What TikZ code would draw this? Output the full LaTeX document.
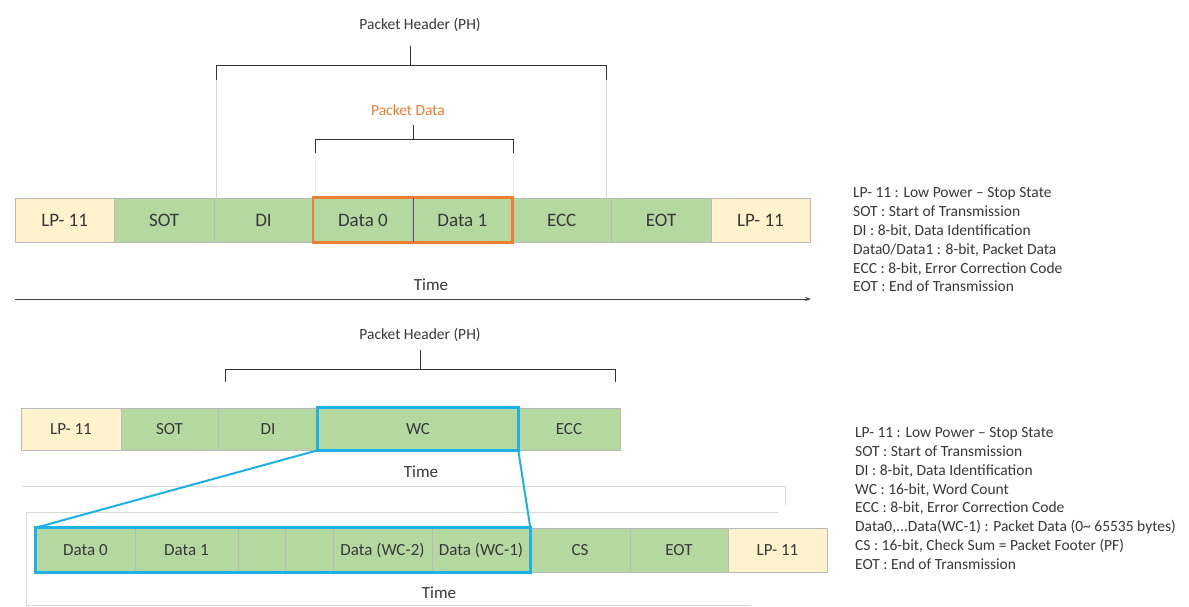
\documentclass[tikz,border=0pt]{standalone}
\usepackage{fontspec}
\setmainfont{Carlito}
\usetikzlibrary{arrows.meta}
\definecolor{cellgreen}{HTML}{B5D8A0}
\definecolor{cellyellow}{HTML}{FFF2CC}
\definecolor{pdorange}{HTML}{ED7D31}
\definecolor{wccyan}{HTML}{1DB1E6}
\definecolor{txt}{HTML}{383838}
\tikzset{
  cellA/.style={draw=gray!55, line width=0.6pt, fill=cellgreen, inner sep=0pt,
    text=txt, font=\fontsize{19}{22}\selectfont, minimum height=44pt},
  lpA/.style={cellA, fill=cellyellow},
  cellB/.style={cellA, font=\fontsize{17}{20}\selectfont},
  lpB/.style={cellB, fill=cellyellow},
  brk/.style={draw=black!80, line width=1pt},
  lbl/.style={text=txt, font=\fontsize{15.5}{18}\selectfont, inner sep=0pt},
  timelbl/.style={text=txt, font=\fontsize{17}{20}\selectfont, inner sep=0pt},
  legend/.style={text=txt, font=\fontsize{15.5}{18.8}\selectfont, align=left, inner sep=0pt, anchor=west},
  faint/.style={draw=gray!30, line width=0.8pt},
  orbox/.style={draw=pdorange, line width=2.5pt},
  cybox/.style={draw=wccyan, line width=2.5pt},
}
\begin{document}
\begin{tikzpicture}[x=1pt, y=-1pt]
\useasboundingbox (0,0) rectangle (1189,607);
\fill[white] (0,0) rectangle (1189,607);

% ---------- Top section ----------
% faint guide lines from bracket ends
\coordinate (g1a) at (216,80);   \coordinate (g1b) at (216,198);
\coordinate (g2a) at (606,80);   \coordinate (g2b) at (606,198);
\coordinate (g3a) at (315,153);  \coordinate (g3b) at (315,198);
\coordinate (g4a) at (513,153);  \coordinate (g4b) at (513,198);
\draw[draw=gray!35, line width=0.8pt] (g1a) -- (g1b);
\draw[draw=gray!35, line width=0.8pt] (g2a) -- (g2b);
\draw[draw=gray!15, line width=0.8pt] (g3a) -- (g3b);
\draw[draw=gray!15, line width=0.8pt] (g4a) -- (g4b);

\node[lpA,   minimum width=99.4pt] (a1) at (64.7,220)  {LP- 11};
\node[cellA, minimum width=99.4pt] (a2) at (164.1,220) {SOT};
\node[cellA, minimum width=99.4pt] (a3) at (263.5,220) {DI};
\node[cellA, minimum width=99.4pt] (a4) at (362.9,220) {Data 0};
\node[cellA, minimum width=99.4pt] (a5) at (462.3,220) {Data 1};
\node[cellA, minimum width=99.4pt] (a6) at (561.7,220) {ECC};
\node[cellA, minimum width=99.4pt] (a7) at (661.1,220) {EOT};
\node[lpA,   minimum width=99.4pt] (a8) at (760.5,220) {LP- 11};
\draw[orbox] (a4.north west) rectangle (a5.south east);
\draw[draw=gray!70!black, line width=0.8pt] (a4.north east) -- (a4.south east);

% Packet Header bracket (top)
\node[lbl] (phA) at (420,25) {Packet Header (PH)};
\coordinate (phAl) at (216,80); \coordinate (phAr) at (606,80);
\coordinate (phAm) at (410,66); \coordinate (phAt) at (410,46);
\draw[brk] (phAl) -- (216,66) -- (606,66) -- (phAr);
\draw[brk] (phAt) -- (phAm);

% Packet Data bracket
\node[lbl, text=pdorange] (pd) at (408,110) {Packet Data};
\coordinate (pdl) at (315,153); \coordinate (pdr) at (513,153);
\coordinate (pdm) at (413,140); \coordinate (pdt) at (413,125);
\draw[brk] (pdl) -- (315,140) -- (513,140) -- (pdr);
\draw[brk] (pdt) -- (pdm);

% time axis
\node[timelbl] (timeA) at (431,285) {Time};
\coordinate (ta1) at (15,299); \coordinate (ta2) at (811,299);
\draw[draw=black!75, line width=1pt, -{Stealth[length=6pt,width=4pt]}] (ta1) -- (ta2);

% legend top
\node[legend] (legA) at (853,240) {LP- 11 : Low Power -- Stop State\\
SOT : Start of Transmission\\
DI : 8-bit, Data Identification\\
Data0/Data1 : 8-bit, Packet Data\\
ECC : 8-bit, Error Correction Code\\
EOT : End of Transmission};

% ---------- Bottom section ----------
\node[lbl] (phB) at (420,335) {Packet Header (PH)};
\coordinate (phBl) at (225,382); \coordinate (phBr) at (615,382);
\coordinate (phBm) at (420,369); \coordinate (phBt) at (420,350);
\draw[brk] (phBl) -- (225,369) -- (615,369) -- (phBr);
\draw[brk] (phBt) -- (phBm);

\node[lpB,   minimum height=42pt, minimum width=100pt] (b1) at (71,429)    {LP- 11};
\node[cellB, minimum height=42pt, minimum width=97pt]  (b2) at (169.5,429) {SOT};
\node[cellB, minimum height=42pt, minimum width=100pt] (b3) at (268,429)   {DI};
\node[cellB, minimum height=42pt, minimum width=200pt] (b4) at (418,429)   {WC};
\node[cellB, minimum height=42pt, minimum width=102pt] (b5) at (569,429)   {ECC};
\draw[cybox] (b4.north west) rectangle (b4.south east);

\node[timelbl] (timeB) at (421,472) {Time};

% faint frame lines
\coordinate (f1) at (22,486);  \coordinate (f2) at (785,486); \coordinate (f3) at (785,505);
\coordinate (f4) at (26,512);  \coordinate (f5) at (778,512);
\coordinate (f6) at (26,605);  \coordinate (f7) at (750,605);
\draw[faint] (f1) -- (f2) -- (f3);
\draw[faint] (f5) -- (f4) -- (f6) -- (f7);

\node[cellB, minimum width=99pt]  (c1) at (85.5,550)  {Data 0};
\node[cellB, minimum width=103pt] (c2) at (186.5,550) {Data 1};
\node[cellB, minimum width=47pt]  (c3) at (261.5,550) {};
\node[cellB, minimum width=48pt]  (c4) at (309,550)   {};
\node[cellB, minimum width=99pt]  (c5) at (382.5,550) {Data (WC-2)};
\node[cellB, minimum width=98pt]  (c6) at (481,550)   {Data (WC-1)};
\node[cellB, minimum width=100pt] (c7) at (580,550)   {CS};
\node[cellB, minimum width=98pt]  (c8) at (679,550)   {EOT};
\node[lpB,   minimum width=99pt]  (c9) at (777.5,550) {LP- 11};
\draw[cybox] (c1.north west) rectangle (c6.south east);
\draw[cybox, line width=2pt] (b4.south west) -- (c1.north west);
\draw[cybox, line width=2pt] (b4.south east) -- (c6.north east);

\node[timelbl] (timeC) at (439,593) {Time};

% legend bottom
\node[legend] (legB) at (855,498.5) {LP- 11 : Low Power -- Stop State\\
SOT : Start of Transmission\\
DI : 8-bit, Data Identification\\
WC : 16-bit, Word Count\\
ECC : 8-bit, Error Correction Code\\
Data0,...Data(WC-1) : Packet Data (0\textasciitilde{} 65535 bytes)\\
CS : 16-bit, Check Sum = Packet Footer (PF)\\
EOT : End of Transmission};
\end{tikzpicture}
\end{document}
